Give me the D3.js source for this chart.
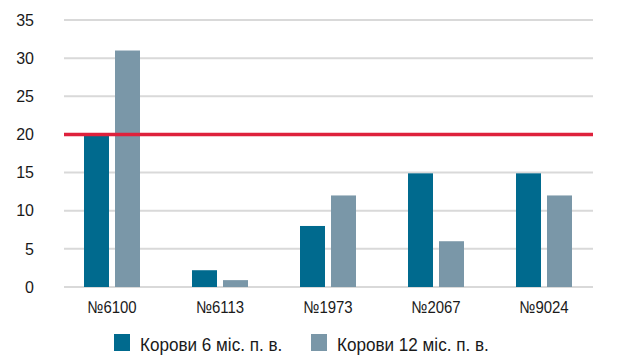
<!DOCTYPE html>
<html>
<head>
<meta charset="utf-8">
<script src="https://cdn.jsdelivr.net/npm/d3@7"></script>
<style>
  body { margin: 0; background: #fff; }
  text { fill: #1a1a1a; }
</style>
</head>
<body>
<div id="chart"></div>
<script>
const categories = ["№6100", "№6113", "№1973", "№2067", "№9024"];
const seriesNames = ["Корови 6 міс. п. в.", "Корови 12 міс. п. в."];
const cows6 = [20, 2.2, 8, 14.9, 14.9];
const cows12 = [31, 0.9, 12, 6, 12];
const yTicks = [0, 5, 10, 15, 20, 25, 30, 35];
const threshold = 20;

const W = 623, H = 363;
const colors = ["#006a8e", "#7a97a8"];
const sans = "'Liberation Sans', Arial, sans-serif";

const svg = d3.select("#chart").append("svg")
    .attr("width", W)
    .attr("height", H);

const x = d3.scaleBand().domain(categories).range([58, 598]);
const y = d3.scaleLinear().domain([0, 35]).range([287, 20]);

const gridLeft = 64, gridRight = 593;

// grid
svg.append("g").selectAll("line")
    .data(yTicks)
    .join("line")
    .attr("x1", gridLeft)
    .attr("x2", gridRight)
    .attr("y1", d => y(d))
    .attr("y2", d => y(d))
    .attr("stroke", "#d9d9d9")
    .attr("stroke-width", 2);

// y labels
svg.append("g").selectAll("text")
    .data(yTicks)
    .join("text")
    .attr("x", 34)
    .attr("y", d => y(d))
    .attr("dy", "0.36em")
    .attr("text-anchor", "end")
    .style("font-family", sans)
    .style("font-size", "16px")
    .text(d => d);

// bars
const barW = 25, gap = 6;
const rows = categories.map((c, i) => ({ c, vals: [cows6[i], cows12[i]] }));

const groups = svg.append("g").selectAll("g")
    .data(rows)
    .join("g")
    .attr("transform", d => `translate(${x(d.c) + x.bandwidth() / 2},0)`);

groups.selectAll("rect")
    .data(d => d.vals)
    .join("rect")
    .attr("x", (d, i) => i === 0 ? -(barW + gap / 2) : gap / 2)
    .attr("width", barW)
    .attr("y", d => y(d))
    .attr("height", d => y(0) - y(d))
    .attr("fill", (d, i) => colors[i]);

// threshold line
svg.append("line")
    .attr("x1", gridLeft)
    .attr("x2", gridRight)
    .attr("y1", y(threshold))
    .attr("y2", y(threshold))
    .attr("stroke", "#de213c")
    .attr("stroke-width", 3.5);

// x labels (condensed look)
svg.append("g").selectAll("text")
    .data(categories)
    .join("text")
    .attr("transform", d => `translate(${x(d) + x.bandwidth() / 2},313) scale(0.88,1)`)
    .attr("text-anchor", "middle")
    .style("font-family", sans)
    .style("font-size", "17px")
    .text(d => d);

// legend
const legendX = [114, 311];
const legend = svg.append("g").selectAll("g")
    .data(seriesNames)
    .join("g")
    .attr("transform", (d, i) => `translate(${legendX[i]},334)`);

legend.append("rect")
    .attr("width", 16)
    .attr("height", 17)
    .attr("fill", (d, i) => colors[i]);

legend.append("text")
    .attr("transform", "translate(26,17) scale(0.9,1)")
    .style("font-family", sans)
    .style("font-size", "19px")
    .text(d => d);
</script>
</body>
</html>
